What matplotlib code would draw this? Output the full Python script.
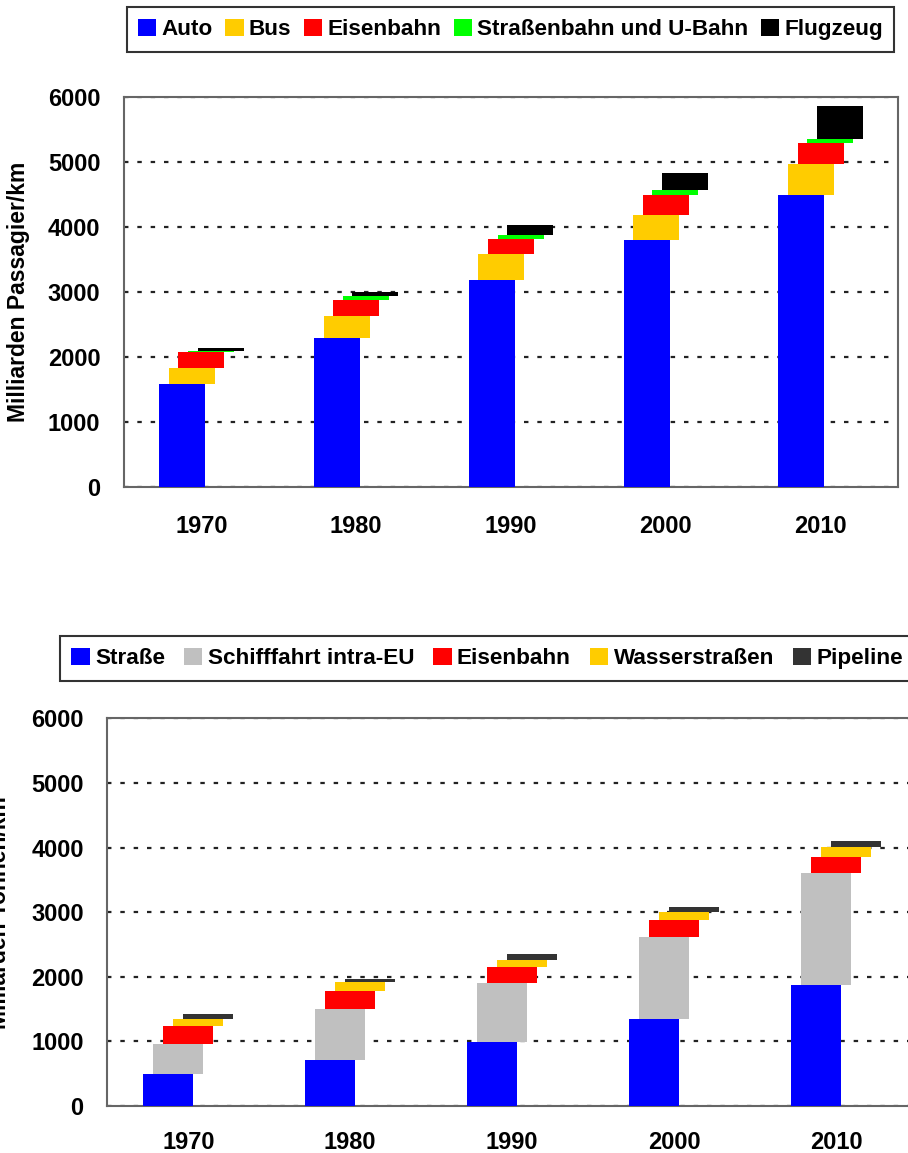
import matplotlib.pyplot as plt
import numpy as np

plt.rcParams['font.family'] = ['Liberation Sans', 'DejaVu Sans']
plt.rcParams['font.weight'] = 'bold'

years = ['1970', '1980', '1990', '2000', '2010']

# Personenverkehr (Mrd. Passagier-km)
pass_labels = ['Auto', 'Bus', 'Eisenbahn', 'Straßenbahn und U-Bahn', 'Flugzeug']
pass_colors = ['#0000ff', '#ffcc00', '#ff0000', '#00ff00', '#000000']
auto = [1590, 2300, 3190, 3805, 4500]
bus = [245, 335, 400, 385, 475]
bahn_p = [245, 250, 230, 310, 325]
tram = [20, 55, 60, 75, 55]
flug = [40, 70, 155, 260, 510]

# Gueterverkehr (Mrd. Tonnen-km)
fr_labels = ['Straße', 'Schifffahrt intra-EU', 'Eisenbahn', 'Wasserstraßen', 'Pipeline']
fr_colors = ['#0000ff', '#c0c0c0', '#ff0000', '#ffcc00', '#333333']
strasse = [495, 712, 985, 1345, 1875]
schiff = [465, 790, 920, 1270, 1735]
bahn_g = [280, 278, 245, 265, 245]
wasser = [105, 140, 110, 125, 150]
pipe = [75, 50, 95, 75, 95]

fig = plt.figure(figsize=(9.08, 11.53), dpi=100)
W, H = 908.0, 1153.0


def waterfall(ax, series, colors, labels, width, step):
    x = np.arange(len(years))
    bottom = np.zeros(len(years))
    n = len(series)
    for k, (vals, c, lab) in enumerate(zip(series, colors, labels)):
        off = (k - (n - 1) / 2) * step
        ax.bar(x + off, vals, width=width, bottom=bottom, color=c,
               label=lab, zorder=3, linewidth=0)
        bottom = bottom + np.array(vals)
    ax.set_xlim(-0.5, 4.5)
    ax.set_ylim(0, 6000)
    ax.set_yticks(range(0, 7000, 1000))
    ax.set_xticks(x)
    ax.set_xticklabels(years)
    ax.yaxis.grid(True, color='#222222', linestyle=(0, (2, 4)), linewidth=1.6, zorder=1)
    ax.set_axisbelow(True)
    for s in ax.spines.values():
        s.set_color('#666666')
        s.set_linewidth(1.5)
    ax.tick_params(length=0, labelsize=17)
    for t in ax.get_xticklabels() + ax.get_yticklabels():
        t.set_fontweight('bold')


ax1 = fig.add_axes([124 / W, 1 - 487.3 / H, (898 - 124) / W, (487.3 - 97.3) / H])
waterfall(ax1, [auto, bus, bahn_p, tram, flug], pass_colors, pass_labels, 0.297, 0.062)
ax1.tick_params(axis='x', pad=20)
ax1.tick_params(axis='y', pad=17)
ax1.set_ylabel('Milliarden Passagier/km', fontsize=16.5, fontweight='bold')
ax1.yaxis.set_label_coords(-(124 - 30) / 774, 0.5)

ax2 = fig.add_axes([107.3 / W, 1 - 1106 / H, (917 - 107.3) / W, (1106 - 718.3) / H])
waterfall(ax2, [strasse, schiff, bahn_g, wasser, pipe], fr_colors, fr_labels, 0.308, 0.062)
ax2.tick_params(axis='x', pad=18)
ax2.tick_params(axis='y', pad=17)
ax2.set_ylabel('Milliarden Tonnen/km', fontsize=16.5, fontweight='bold')
ax2.yaxis.set_label_coords(-(107.3 - 11) / 810, 0.5)

leg_kw = dict(ncol=5, handlelength=0.82, handleheight=0.82, handletextpad=0.23,
              borderpad=0.5, borderaxespad=0, fancybox=False, framealpha=1,
              edgecolor='#333333', prop={'weight': 'bold', 'size': 16.2})

h1, l1 = ax1.get_legend_handles_labels()
leg1 = fig.legend(h1, l1, loc='center', bbox_to_anchor=(510.5 / W, 1 - 29.5 / H),
                  columnspacing=0.55, **leg_kw)
leg1.get_frame().set_linewidth(1.5)

h2, l2 = ax2.get_legend_handles_labels()
leg2 = fig.legend(h2, l2, loc='center left', bbox_to_anchor=(60 / W, 1 - 658.5 / H),
                  columnspacing=0.85, **leg_kw)
leg2.get_frame().set_linewidth(1.5)

fig.savefig('out.png', dpi=100)
